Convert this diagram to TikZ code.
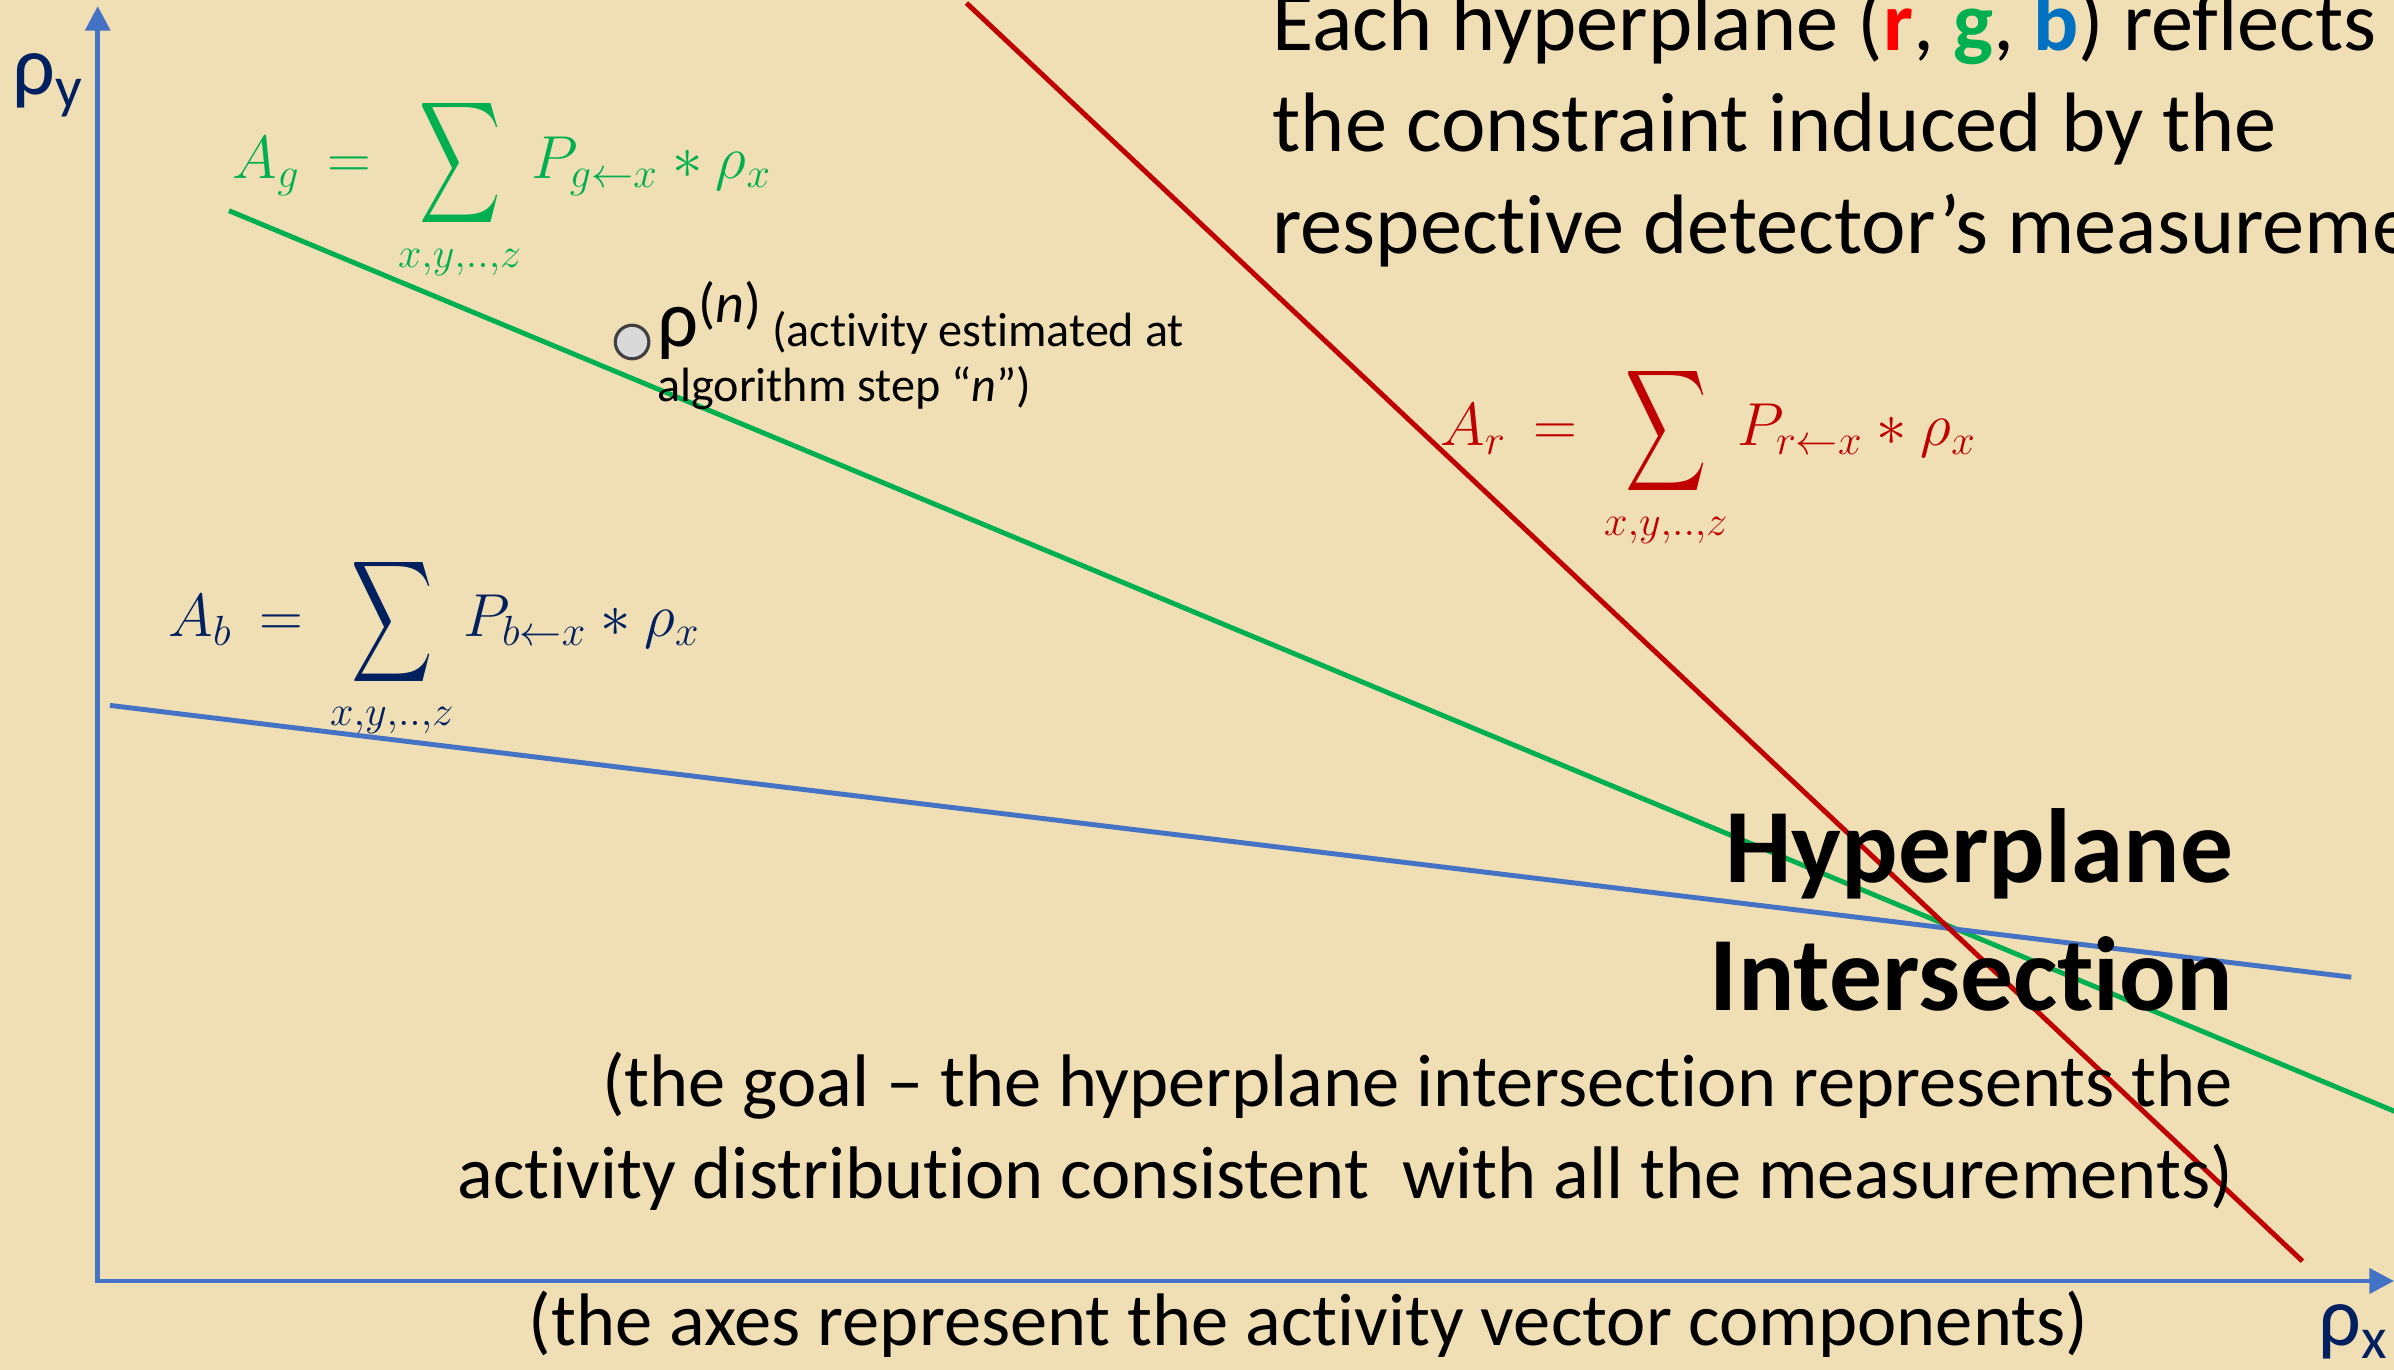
\documentclass[tikz,border=0pt]{standalone}
\usepackage{fontspec}
\setmainfont{Carlito}[Ligatures=NoCommon]
\usepackage{amsmath}
\usepackage{graphicx}
\usetikzlibrary{arrows.meta}
\DeclareMathSizes{17}{17}{12.5}{10}

\definecolor{parchment}{RGB}{240,222,180}
\definecolor{planeg}{RGB}{0,176,80}
\definecolor{planer}{RGB}{192,0,0}
\definecolor{planeb}{RGB}{68,114,196}
\definecolor{navy}{RGB}{0,32,96}
\definecolor{brightred}{RGB}{255,0,0}
\definecolor{brightblue}{RGB}{0,112,192}

\begin{document}
\begin{tikzpicture}[x=0.015268cm, y=-0.015268cm,
    every node/.style={inner sep=0pt},
    axis/.style={draw=planeb, line width=1.4pt, {Triangle[width=7pt,length=7pt]}-{Triangle[width=7pt,length=7pt]}},
    plane/.style={line width=1.4pt},
    eq/.style={anchor=base west, font=\fontsize{17}{21}\selectfont},
    axlabel/.style={anchor=base west, text=navy, font=\fontsize{24}{24}\selectfont},
    remark/.style={font=\fontsize{21.2}{26}\selectfont},
    caption/.style={anchor=base west, font=\fontsize{24}{29}\selectfont},
    title/.style={anchor=base east, font=\fontsize{30}{36}\bfseries}]
    % equation of one detector hyperplane, tall sum as in the slide
    \newcommand{\bigsum}{\mathop{\vcenter{\hbox{\scalebox{0.93}[1.4]{$\displaystyle\sum$}}}}\limits}
    \newcommand{\planeeq}[1]{$\thickmuskip=8mu \medmuskip=4mu
      A_{#1} = \bigsum_{x,y,..,z} P_{#1\leftarrow x} * \rho_x$}
    % page, 1568 x 897 units
    \useasboundingbox (0,0) rectangle (1568,897);
    \fill[parchment] (0,0) rectangle (1568,897);
    \clip (0,0) rectangle (1568,897);
    % axes
    \coordinate (O) at (64,839);
    \coordinate (ytop) at (64,4);
    \coordinate (xend) at (1568,839);
    \draw[axis] (ytop) -- (O) -- (xend);
    \node[axlabel] (rhoy) at (8,62) {ρ\textsubscript{y}};
    \node[axlabel] (rhox) at (1518,881) {ρ\textsubscript{x}};
    % hyperplanes
    \coordinate (g0) at (150,138);
    \coordinate (g1) at (1600,741);
    \coordinate (b0) at (72,462);
    \coordinate (b1) at (1540,640);
    \coordinate (r0) at (633,2);
    \coordinate (r1) at (1508,826);
    \draw[plane,planeg] (g0) -- (g1);
    \draw[plane,planeb] (b0) -- (b1);
    \draw[plane,planer] (r0) -- (r1);
    \node[eq,text=planeg] (eqg) at (152,117) {\planeeq{g}};
    \node[eq,text=planer] (eqr) at (943,292) {\planeeq{r}};
    \node[eq,text=navy] (eqb) at (110,417) {\planeeq{b}};
    % current estimate
    \draw[fill=black!15, draw=black!75, line width=0.9pt] (414,224) circle (11) coordinate (rhon);
    \node[anchor=base west] (est1) at (430,227) {{\fontsize{23}{24}\selectfont ρ\raisebox{0.3em}{\fontsize{16}{16}\selectfont(\textit{n})}}{\fontsize{13.7}{14}\selectfont\ (activity estimated at}};
    \node[anchor=base west, font=\fontsize{13.7}{14}\selectfont] (est2) at (430,263) {algorithm step “\textit{n}”)};
    % explanation
    \node[caption] (top1) at (833,33) {Each hyperplane ({\color{brightred}\bfseries r}, {\color{planeg}\bfseries g}, {\color{brightblue}\bfseries b}) reflects};
    \node[caption] (top2) at (833,99.5) {the constraint induced by the};
    \node[caption] (top3) at (833,166) {respective detector’s measurements};
    \node[title] (hi1) at (1463,578) {Hyperplane};
    \node[title] (hi2) at (1463,662) {Intersection};
    \node[remark, anchor=base east] (goal1) at (1463,725) {(the goal – the hyperplane intersection represents the};
    \node[remark, anchor=base east] (goal2) at (1463,785) {activity distribution consistent\hspace{0.45em}with all the measurements)};
    \node[remark, anchor=base] (axes) at (857,881) {(the axes represent the activity vector components)};
\end{tikzpicture}
\end{document}
